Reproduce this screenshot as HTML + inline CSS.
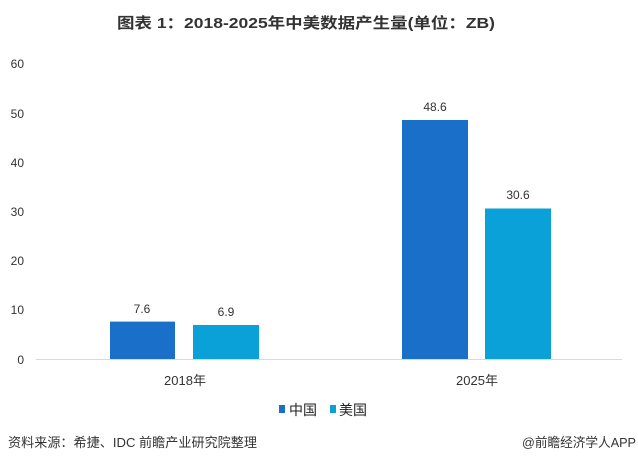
<!DOCTYPE html>
<html><head><meta charset="utf-8"><style>
body{margin:0;background:#fff;}
svg text{font-family:"Liberation Sans","Noto Sans CJK SC",sans-serif;}
</style></head><body>
<svg width="638" height="463" viewBox="0 0 638 463" xmlns="http://www.w3.org/2000/svg">
<rect width="638" height="463" fill="#fff"/>
<text x="117" y="28" font-size="15" font-weight="bold" fill="#333" textLength="378" lengthAdjust="spacingAndGlyphs">图表 1：2018-2025年中美数据产生量(单位：ZB)</text>
<g font-size="12" fill="#333" text-anchor="end">
<text x="24" y="68">60</text>
<text x="24" y="118">50</text>
<text x="24" y="167">40</text>
<text x="24" y="216">30</text>
<text x="24" y="265">20</text>
<text x="24" y="314">10</text>
<text x="24" y="364">0</text>
</g>
<line x1="36" y1="359.5" x2="622" y2="359.5" stroke="#d9d9d9"/>
<rect x="110" y="321.6" width="65" height="37.4" fill="#1a6fc9"/>
<rect x="193" y="325" width="66" height="34" fill="#0aa0d8"/>
<rect x="402" y="120" width="66" height="239" fill="#1a6fc9"/>
<rect x="485" y="208.5" width="66" height="150.5" fill="#0aa0d8"/>
<g font-size="12" fill="#333" text-anchor="middle">
<text x="142" y="313">7.6</text>
<text x="226" y="316">6.9</text>
<text x="435" y="111">48.6</text>
<text x="518" y="199">30.6</text>
<text x="185" y="385" font-size="13">2018年</text>
<text x="477" y="385" font-size="13">2025年</text>
</g>
<rect x="279" y="405" width="6" height="8" fill="#1a6fc9"/>
<text x="289" y="415" font-size="14" fill="#222">中国</text>
<rect x="330" y="405" width="6" height="8" fill="#0aa0d8"/>
<text x="339" y="415" font-size="14" fill="#222">美国</text>
<text x="8" y="447" font-size="13" fill="#333" textLength="249" lengthAdjust="spacingAndGlyphs">资料来源：希捷、IDC 前瞻产业研究院整理</text>
<text x="522" y="447" font-size="13" fill="#333" textLength="114" lengthAdjust="spacingAndGlyphs">@前瞻经济学人APP</text>
</svg>
</body></html>
